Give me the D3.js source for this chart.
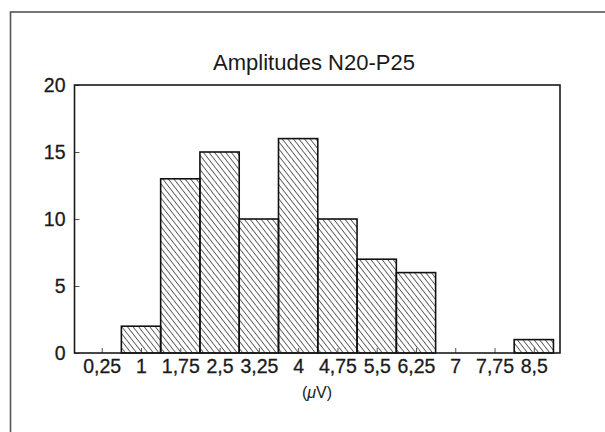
<!DOCTYPE html>
<html lang="fr"><head>
<meta charset="utf-8"/>
<title>Amplitudes N20-P25</title>
<script src="https://d3js.org/d3.v7.min.js"></script>
<style>
    body { margin: 0; padding: 0; width: 605px; height: 432px; background: #fff; overflow: hidden; }
    svg { display: block; font-family: 'Liberation Sans', Arial, sans-serif; }
</style>
</head>
<body>
<div id="chart"></div>
<script>
    // histogram data
    const binCenters = [0.25, 1, 1.75, 2.5, 3.25, 4, 4.75, 5.5, 6.25, 7, 7.75, 8.5];
    const counts = [0, 2, 13, 15, 10, 16, 10, 7, 6, 0, 0, 1];
    const xTickLabels = ["0,25", "1", "1,75", "2,5", "3,25", "4", "4,75", "5,5", "6,25", "7", "7,75", "8,5"];
    const yTicks = [0, 5, 10, 15, 20];
    const binWidth = 0.75;

    const W = 605, H = 432;
    const plot = { left: 74.5, right: 560, top: 85, bottom: 353 };

    const svg = d3.select("#chart").append("svg")
        .attr("width", W)
        .attr("height", H);

    // hatch pattern
    const defs = svg.append("defs");
    defs.append("pattern")
        .attr("id", "hatch")
        .attr("patternUnits", "userSpaceOnUse")
        .attr("width", 4.4)
        .attr("height", 4.4)
        .attr("patternTransform", "rotate(-38)")
        .append("line")
        .attr("x1", 0).attr("y1", 0)
        .attr("x2", 0).attr("y2", 4.4)
        .attr("stroke", "#1a1a1a")
        .attr("stroke-width", 1.3);

    // outer frame (runs off the right and bottom edges)
    svg.append("rect")
        .attr("x", 10.5).attr("y", 12)
        .attr("width", W + 20).attr("height", H + 20)
        .attr("fill", "none")
        .attr("stroke", "#555")
        .attr("stroke-width", 1.6);

    const x = d3.scaleLinear()
        .domain([-0.27, 9.0])
        .range([plot.left, plot.right]);

    const y = d3.scaleLinear()
        .domain([0, 20])
        .range([plot.bottom, plot.top]);

    // bars
    const data = binCenters.map((c, i) => ({ c: c, n: counts[i] }));
    svg.append("g").selectAll("rect")
        .data(data.filter(d => d.n > 0))
        .enter()
        .append("rect")
        .attr("x", d => x(d.c - binWidth / 2))
        .attr("y", d => y(d.n))
        .attr("width", d => x(d.c + binWidth / 2) - x(d.c - binWidth / 2))
        .attr("height", d => y(0) - y(d.n))
        .attr("fill", "url(#hatch)")
        .attr("stroke", "#111")
        .attr("stroke-width", 1.6);

    // x axis
    const xAxis = svg.append("g")
        .attr("transform", `translate(0,${plot.bottom})`)
        .call(d3.axisBottom(x)
            .tickValues(binCenters)
            .tickFormat((d, i) => xTickLabels[i])
            .tickSizeInner(-5)
            .tickSizeOuter(0)
            .tickPadding(6));
    xAxis.select(".domain").remove();
    xAxis.selectAll("line").attr("stroke", "#555");
    xAxis.selectAll("text")
        .attr("fill", "#1a1a1a")
        .attr("stroke", "#1a1a1a")
        .attr("stroke-width", 0.3)
        .style("font-size", "19.5px");

    // y axis
    const yAxis = svg.append("g")
        .attr("transform", `translate(${plot.left},0)`)
        .call(d3.axisLeft(y)
            .tickValues(yTicks)
            .tickSizeInner(-5)
            .tickSizeOuter(0)
            .tickPadding(9));
    yAxis.select(".domain").remove();
    yAxis.selectAll("line").attr("stroke", "#555");
    yAxis.selectAll("text")
        .attr("fill", "#1a1a1a")
        .attr("stroke", "#1a1a1a")
        .attr("stroke-width", 0.3)
        .style("font-size", "19.5px");

    // plot box
    svg.append("rect")
        .attr("x", plot.left).attr("y", plot.top)
        .attr("width", plot.right - plot.left)
        .attr("height", plot.bottom - plot.top)
        .attr("fill", "none")
        .attr("stroke", "#1a1a1a")
        .attr("stroke-width", 1.6);

    // title
    svg.append("text")
        .attr("x", 314)
        .attr("y", 70)
        .attr("text-anchor", "middle")
        .attr("fill", "#1a1a1a")
        .style("font-size", "22px")
        .text("Amplitudes N20-P25");

    // x axis label
    const xl = svg.append("text")
        .attr("x", 317)
        .attr("y", 398)
        .attr("text-anchor", "middle")
        .attr("fill", "#1a1a1a")
        .style("font-size", "16px");
    xl.append("tspan").text("(");
    xl.append("tspan").style("font-style", "italic").text("\u03bc");
    xl.append("tspan").text("V)");
</script>
</body></html>
